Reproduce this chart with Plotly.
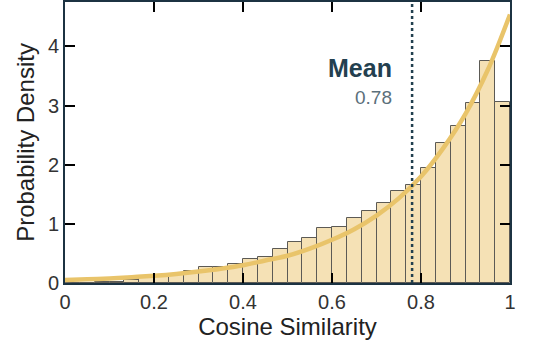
import numpy as np
import plotly.graph_objects as go

# --- Data ---
n_bins = 30
density = [0.0, 0.005, 0.01, 0.02, 0.05, 0.085, 0.13, 0.13, 0.21, 0.27,
           0.27, 0.32, 0.41, 0.44, 0.57, 0.70, 0.76, 0.93, 0.94, 1.10,
           1.22, 1.35, 1.55, 1.65, 1.94, 2.37, 2.66, 3.05, 3.75, 3.06]

curve_x = [0.0, 0.05, 0.1, 0.15, 0.2, 0.25, 0.3, 0.35, 0.4, 0.45, 0.5,
           0.55, 0.6, 0.65, 0.7, 0.75, 0.8, 0.85, 0.9, 0.95, 1.0]
curve_y = [0.05, 0.063, 0.078, 0.098, 0.123, 0.154, 0.193, 0.24, 0.30, 0.38, 0.46,
           0.58, 0.73, 0.91, 1.14, 1.43, 1.80, 2.28, 2.86, 3.60, 4.54]

mean_val = 0.78

AXIS = '#1c3342'
FONT = 'Liberation Sans, Arial, sans-serif'

w = 1.0 / n_bins
centers = np.arange(n_bins) * w + w / 2

fig = go.Figure()
fig.add_trace(go.Bar(
    x=centers, y=density, width=w,
    marker=dict(color='#f5e1b5', line=dict(color='#5c5a55', width=1)),
    showlegend=False, hoverinfo='skip'))

fig.add_trace(go.Scatter(
    x=curve_x, y=curve_y, mode='lines', line_shape='spline',
    line=dict(color='#e9c46a', width=4.5), showlegend=False))

fig.add_shape(type='line', x0=mean_val, x1=mean_val, y0=0, y1=1, yref='paper',
              line=dict(color='#22404f', width=2.5, dash='dot'))

fig.add_annotation(x=mean_val, y=3.63, xref='x', yref='y', text='<b>Mean</b>',
                   showarrow=False, xanchor='right', xshift=-18,
                   font=dict(family=FONT, size=25, color='#23404f'))
fig.add_annotation(x=mean_val, y=3.14, xref='x', yref='y', text='0.78',
                   showarrow=False, xanchor='right', xshift=-18,
                   font=dict(family=FONT, size=19, color='#5b6f7b'))

axis_common = dict(showline=True, linecolor=AXIS, linewidth=2, mirror='ticks',
                   ticks='inside', ticklen=10, tickwidth=2, tickcolor='black',
                   showgrid=False, zeroline=False, automargin=False,
                   tickfont=dict(family=FONT, size=20, color='#333333'))

fig.update_xaxes(range=[0, 1], tickvals=[0, 0.2, 0.4, 0.6, 0.8, 1],
                 ticktext=['0', '0.2', '0.4', '0.6', '0.8', '1'],
                 title=dict(text='Cosine Similarity', standoff=4,
                            font=dict(family=FONT, size=24, color='#222222')),
                 **axis_common)
fig.update_yaxes(range=[0, 4.75], tickvals=[0, 1, 2, 3, 4],
                 title=dict(text='Probability Density', standoff=6,
                            font=dict(family=FONT, size=24, color='#222222')),
                 **axis_common)

fig.update_layout(width=540, height=360, plot_bgcolor='white', paper_bgcolor='white',
                  margin=dict(l=65, r=30, t=2, b=77), bargap=0)

# remove the browser's default body margin so the figure sits at (0, 0)
fig.write_html("out.html", config={'displayModeBar': False},
               post_script="document.body.style.margin='0';")
